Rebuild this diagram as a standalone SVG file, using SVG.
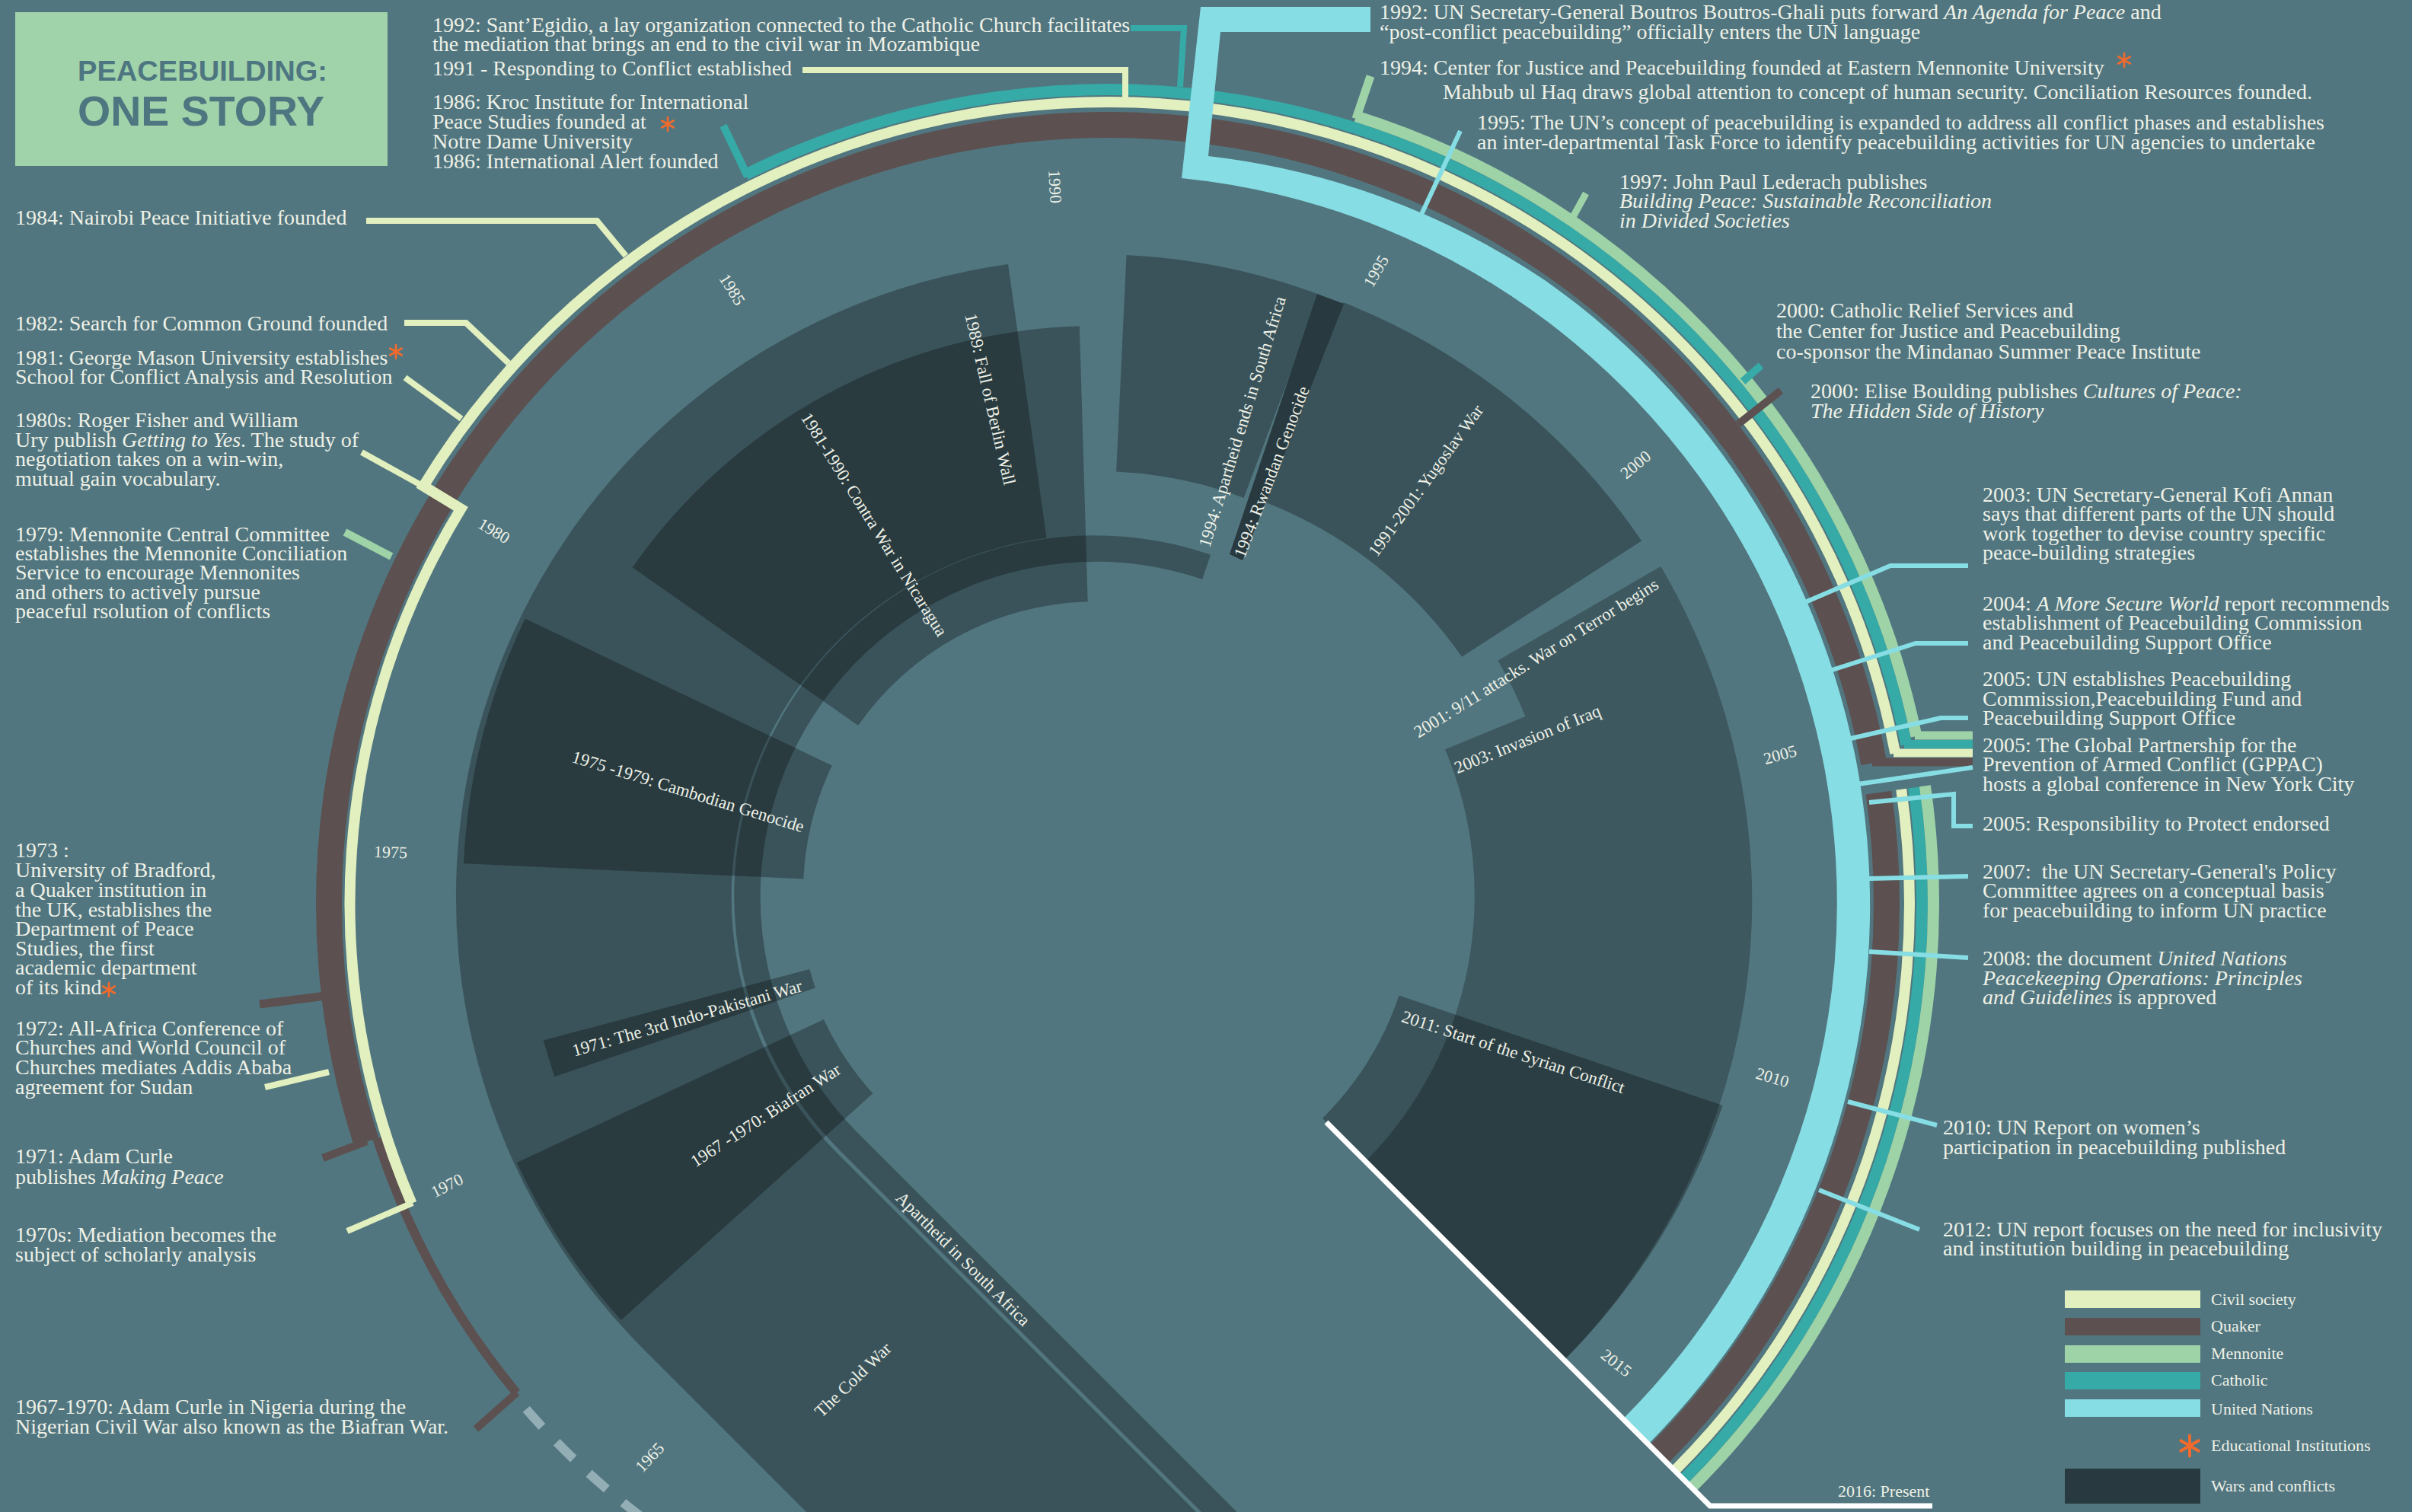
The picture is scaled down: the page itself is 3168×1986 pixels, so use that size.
<svg xmlns="http://www.w3.org/2000/svg" width="3168" height="1986" viewBox="0 0 3168 1986">
<defs>
<style>
.t{font-family:"Liberation Serif","Times New Roman",serif;font-size:28px;fill:#eef1e7}
.i{font-style:italic}
.wl{font-family:"Liberation Serif","Times New Roman",serif;font-size:23px;fill:#eef1e7}
.yr{font-family:"Liberation Serif","Times New Roman",serif;font-size:22px;fill:#eef1e7;text-anchor:middle}
.lg{font-family:"Liberation Serif","Times New Roman",serif;font-size:22px;fill:#eef1e7}
.war{fill:#000;fill-opacity:.29}
.band{fill:none;stroke-linecap:butt}
.cr{stroke:#e2efbf}
.br{stroke:#5c5050}
.mn{stroke:#9ed3a8}
.ct{stroke:#35aaa7}
.un{stroke:#86dde4}
.ttl{font-family:"Liberation Sans",Arial,sans-serif;font-weight:700;fill:#4e7681}
</style>
<g id="ast"><path d="M0,-9V9M-7.8,-4.5L7.8,4.5M-7.8,4.5L7.8,-4.5" fill="none" stroke="#f26a2c" stroke-width="2.6" stroke-linecap="round"/></g>
</defs>
<rect width="3168" height="1986" fill="#52767f"/>

<g id="wars">
<path id="war-coldwar" class="war" d="M 1542.5 2469.5 L 842.5 1769.5 A 839 839 0 0 1 1324.1 347.1 L 1374.6 706.6 A 476 476 0 0 0 1098.5 1513.5 L 1798.5 2213.5 Z"/>
<path id="war-apartheid" class="war" d="M 1802 2210 L 1102 1510 A 473 473 0 0 1 1590.1 728.7 L 1579.2 760.9 A 440 440 0 0 0 1125.3 1486.7 L 1825.3 2186.7 Z"/>
<path id="war-biafran" class="war" d="M 815.8 1734.1 A 840 840 0 0 1 678.7 1527 L 1082 1338.9 A 395 395 0 0 0 1146.5 1436.3 Z"/>
<path id="war-indopak" class="war" d="M 713.6 1366.6 L 1063.3 1272.9 L 1070.8 1297.7 L 728.1 1414.3 Z"/>
<path id="war-cambodia" class="war" d="M 608.9 1134.3 A 832 832 0 0 1 689.7 812.5 L 1092.8 1005.6 A 385 385 0 0 0 1055.4 1154.5 Z"/>
<path id="war-contra" class="war" d="M 830.6 745.3 A 744 744 0 0 1 1417.9 428.3 L 1428.7 790.2 A 382 382 0 0 0 1127.1 952.9 Z"/>
<path id="war-apartheid-ends" class="war" d="M 1479.5 334.9 A 838 838 0 0 1 1733.5 387.1 L 1633.7 654 A 553 553 0 0 0 1466.1 619.6 Z"/>
<path id="war-yugoslav" class="war" d="M 1764.2 397.1 A 846 846 0 0 1 2156.2 710.5 L 1920 862.7 A 565 565 0 0 0 1655.3 657.2 Z"/>
<path id="war-rwanda" fill="#28393f" d="M 1730 386 L 1765 399 L 1632 736 L 1615 728 Z"/>
<path id="war-terror-iraq" class="war" style="fill-opacity:.25" d="M 2181.3 744 A 862 862 0 0 1 2054.5 1786.5 L 1793.6 1525.6 A 497 497 0 0 0 1898 984.2 L 2003.5 940.9 A 609 609 0 0 0 1967.4 867.5 Z"/>
<path id="war-syria" class="war" d="M 2262.6 1452.1 A 869 869 0 0 1 2054.5 1786.5 L 1737 1469 A 420 420 0 0 0 1837.6 1307.4 Z"/>
</g>

<g id="timeline-bands">
<path id="dashes-1965" class="band" d="M 691.2 1850.9 A 1012 1012 0 0 0 979.9 2080.5" stroke="#93aeb4" stroke-width="12" stroke-dasharray="31 28"/>
<path id="quaker-thin" class="band br" stroke-width="12" d="M 678.3 1829.5 A 1008 1008 0 0 1 495.3 1495.1"/>
<path id="quaker-upper" class="band br" stroke-width="34" d="M 481 1499.7 A 1023 1023 0 0 1 1455 164 A 1023 1023 0 0 1 2461.1 1002"/>
<path id="quaker-lower" class="band br" stroke-width="34" d="M 2467.5 1041.1 A 1023 1023 0 0 1 2178.4 1910.4"/>
<path id="civil-upper" class="band cr" stroke-width="14" stroke-linejoin="miter" d="M 540.7 1580.8 A 995.5 995.5 0 0 1 605.3 668.3 L 556.2 638.4 A 1053 1053 0 0 1 1637.9 150 A 1053 1053 0 0 1 2489.3 989.5"/>
<path id="civil-lower" class="band cr" stroke-width="14" d="M 2497.2 1036.8 A 1053 1053 0 0 1 2199.6 1931.6"/>
<path id="catholic-upper" class="band ct" stroke-width="15" d="M 979.5 229.1 A 1069.5 1069.5 0 0 1 2503.9 978"/>
<path id="catholic-lower" class="band ct" stroke-width="15" d="M 2513.6 1034.5 A 1069.5 1069.5 0 0 1 2211.2 1943.2"/>
<path id="mennonite-upper" class="band mn" stroke-width="15" d="M 1781.1 152.7 A 1084.5 1084.5 0 0 1 2517 967"/>
<path id="mennonite-lower" class="band mn" stroke-width="15" d="M 2528.4 1032.3 A 1084.5 1084.5 0 0 1 2221.9 1953.9"/>
<g id="gppac-stubs" stroke-width="11" fill="none">
<line class="mn" x1="2515" y1="966" x2="2591" y2="966"/>
<line class="ct" x1="2501" y1="977.5" x2="2591" y2="977.5"/>
<line class="cr" x1="2487" y1="989" x2="2591" y2="989"/>
<line class="br" x1="2459" y1="1001" x2="2591" y2="1001"/>
</g>
<path id="united-nations" fill="#86dde4" d="M 1577 9 L 1800 9 L 1800 42 L 1603 42 L 1587 205 A 995 995 0 0 1 2028.6 367.8 A 1004 1004 0 0 1 2164.9 1896.9 L 2131.7 1863.7 A 957 957 0 0 0 1552 234 Z"/>
</g>

<g id="connectors" fill="none" stroke-linejoin="miter">
<polyline class="cr" stroke-width="8" points="1054,92 1478,92 1478,128"/>
<polyline class="cr" stroke-width="8" points="481,290 784,290 822,336"/>
<polyline class="cr" stroke-width="8" points="531,424 612,424 668,477"/>
<polyline class="cr" stroke-width="8" points="532,496 606,550"/>
<polyline class="cr" stroke-width="8" points="475,594 560,641"/>
<polyline class="cr" stroke-width="8" points="348,1428 432,1408"/>
<polyline class="cr" stroke-width="8" points="456,1617 542,1580"/>
<polyline class="br" stroke-width="11" points="341,1319 428,1308"/>
<polyline class="br" stroke-width="10" points="424,1521 482,1499"/>
<polyline class="br" stroke-width="10" points="679,1829 625,1877"/>
<polyline class="br" stroke-width="10" points="2339,513 2283,557"/>
<polyline class="ct" stroke-width="8" points="1485,37 1555,37 1550,114"/>
<polyline class="ct" stroke-width="10" points="950,165 982,232"/>
<polyline class="ct" stroke-width="10" points="2313,480 2289,501"/>
<polyline class="mn" stroke-width="11" points="1800,100 1781,156"/>
<polyline class="mn" stroke-width="9" points="2083,254 2066,285"/>
<polyline class="mn" stroke-width="10" points="453,699 514,731"/>
<polyline class="un" stroke-width="6" points="1918,172 1864,288"/>
<polyline class="un" stroke-width="6" points="2364,794 2483,743 2585,743"/>
<polyline class="un" stroke-width="6" points="2397,883 2516,845 2585,845"/>
<polyline class="un" stroke-width="6" points="2422,972 2549,943 2585,943"/>
<polyline class="un" stroke-width="6" points="2433,1031 2591,1008"/>
<polyline class="un" stroke-width="6" points="2455,1054 2566,1043 2566,1085 2591,1085"/>
<polyline class="un" stroke-width="6" points="2455,1154 2585,1151"/>
<polyline class="un" stroke-width="6" points="2455,1250 2585,1258"/>
<polyline class="un" stroke-width="6" points="2427,1447 2544,1478"/>
<polyline class="un" stroke-width="6" points="2389,1563 2521,1615"/>
<polyline id="present-line" stroke="#ffffff" stroke-width="7" points="1742,1474 2246,1978 2538,1978"/>
</g>

<g id="title">
<rect x="20" y="16" width="489" height="202" fill="#a0d3a9"/>
<text class="ttl" x="102" y="106" font-size="37" textLength="328" lengthAdjust="spacingAndGlyphs">PEACEBUILDING:</text>
<text class="ttl" x="102" y="165" font-size="56" textLength="324" lengthAdjust="spacingAndGlyphs">ONE STORY</text>
</g>

<g id="year-labels">
<text class="yr" transform="translate(853 1914) rotate(-47)" dy=".35em">1965</text>
<text class="yr" transform="translate(587 1557) rotate(-27)" dy=".35em">1970</text>
<text class="yr" transform="translate(513 1119) rotate(2)" dy=".35em">1975</text>
<text class="yr" transform="translate(649 697) rotate(31)" dy=".35em">1980</text>
<text class="yr" transform="translate(962 380) rotate(58)" dy=".35em">1985</text>
<text class="yr" transform="translate(1386 245) rotate(87)" dy=".35em">1990</text>
<text class="yr" transform="translate(1807 356) rotate(-60)" dy=".35em">1995</text>
<text class="yr" transform="translate(2148 610) rotate(-40)" dy=".35em">2000</text>
<text class="yr" transform="translate(2338 991) rotate(-15)" dy=".35em">2005</text>
<text class="yr" transform="translate(2328 1415) rotate(16)" dy=".35em">2010</text>
<text class="yr" transform="translate(2123 1790) rotate(38)" dy=".35em">2015</text>
</g>

<g id="war-labels">
<text class="wl" transform="translate(1275 412) rotate(77)" dy=".35em">1989: Fall of Berlin Wall</text>
<text class="wl" transform="translate(1058 544) rotate(58)" dy=".35em">1981-1990: Contra War in Nicaragua</text>
<text class="wl" transform="translate(752 993) rotate(17)" dy=".35em">1975 -1979: Cambodian Genocide</text>
<text class="wl" transform="translate(752 1380) rotate(-16)" dy=".35em">1971: The 3rd Indo-Pakistani War</text>
<text class="wl" transform="translate(909 1527) rotate(-33)" dy=".35em">1967 -1970: Biafran War</text>
<text class="wl" transform="translate(1120 1812) rotate(-44)" dy=".35em" text-anchor="middle">The Cold War</text>
<text class="wl" transform="translate(1181 1569) rotate(45)" dy=".35em">Apartheid in South Africa</text>
<text class="wl" transform="translate(1581 718) rotate(-73)" dy=".35em">1994: Apartheid ends in South Africa</text>
<text class="wl" transform="translate(1627 731) rotate(-69)" dy=".35em">1994: Rwandan Genocide</text>
<text class="wl" transform="translate(1802 728) rotate(-54)" dy=".35em">1991-2001: Yugoslav War</text>
<text class="wl" transform="translate(1859 963) rotate(-32)" dy=".35em">2001: 9/11 attacks. War on Terror begins</text>
<text class="wl" transform="translate(1911 1009) rotate(-22)" dy=".35em">2003: Invasion of Iraq</text>
<text class="wl" transform="translate(1842 1334) rotate(18)" dy=".35em">2011: Start of the Syrian Conflict</text>
</g>

<g id="ev-1992-santegidio"><text class="t" x="568" y="42">1992: Sant’Egidio, a lay organization connected to the Catholic Church facilitates</text><text class="t" x="568" y="67">the mediation that brings an end to the civil war in Mozambique</text></g>
<g id="ev-1991"><text class="t" x="568" y="99">1991 - Responding to Conflict established</text></g>
<g id="ev-1986"><text class="t" x="568" y="143">1986: Kroc Institute for International</text><text class="t" x="568" y="169">Peace Studies founded at</text><use href="#ast" x="877" y="163"/><text class="t" x="568" y="195">Notre Dame University</text><text class="t" x="568" y="221">1986: International Alert founded</text></g>
<g id="ev-1984"><text class="t" x="20" y="295">1984: Nairobi Peace Initiative founded</text></g>
<g id="ev-1982"><text class="t" x="20" y="434">1982: Search for Common Ground founded</text></g>
<g id="ev-1981"><text class="t" x="20" y="479">1981: George Mason University establishes</text><use href="#ast" x="520" y="462"/><text class="t" x="20" y="504">School for Conflict Analysis and Resolution</text></g>
<g id="ev-1980s"><text class="t" x="20" y="561">1980s: Roger Fisher and William</text><text class="t" x="20" y="587">Ury publish <tspan class="i">Getting to Yes</tspan>. The study of</text><text class="t" x="20" y="612">negotiation takes on a win-win,</text><text class="t" x="20" y="638">mutual gain vocabulary.</text></g>
<g id="ev-1979"><text class="t" x="20" y="711">1979: Mennonite Central Committee</text><text class="t" x="20" y="736">establishes the Mennonite Conciliation</text><text class="t" x="20" y="761">Service to encourage Mennonites</text><text class="t" x="20" y="787">and others to actively pursue</text><text class="t" x="20" y="812">peaceful rsolution of conflicts</text></g>
<g id="ev-1973"><text class="t" x="20" y="1126">1973 :</text><text class="t" x="20" y="1152">University of Bradford,</text><text class="t" x="20" y="1178">a Quaker institution in</text><text class="t" x="20" y="1204">the UK, establishes the</text><text class="t" x="20" y="1229">Department of Peace</text><text class="t" x="20" y="1255">Studies, the first</text><text class="t" x="20" y="1280">academic department</text><text class="t" x="20" y="1306">of its kind</text><use href="#ast" x="143" y="1300"/></g>
<g id="ev-1972"><text class="t" x="20" y="1360">1972: All-Africa Conference of</text><text class="t" x="20" y="1385">Churches and World Council of</text><text class="t" x="20" y="1411">Churches mediates Addis Ababa</text><text class="t" x="20" y="1437">agreement for Sudan</text></g>
<g id="ev-1971"><text class="t" x="20" y="1528">1971: Adam Curle</text><text class="t" x="20" y="1555">publishes <tspan class="i">Making Peace</tspan></text></g>
<g id="ev-1970s"><text class="t" x="20" y="1631">1970s: Mediation becomes the</text><text class="t" x="20" y="1657">subject of scholarly analysis</text></g>
<g id="ev-1967"><text class="t" x="20" y="1857">1967-1970: Adam Curle in Nigeria during the</text><text class="t" x="20" y="1883">Nigerian Civil War also known as the Biafran War.</text></g>

<g id="ev-1992-un"><text class="t" x="1812" y="25">1992: UN Secretary-General Boutros Boutros-Ghali puts forward <tspan class="i">An Agenda for Peace</tspan> and</text><text class="t" x="1812" y="51">“post-conflict peacebuilding” officially enters the UN language</text></g>
<g id="ev-1994"><text class="t" x="1812" y="98">1994: Center for Justice and Peacebuilding founded at Eastern Mennonite University</text><use href="#ast" x="2790" y="79"/><text class="t" x="1895" y="130">Mahbub ul Haq draws global attention to concept of human security. Conciliation Resources founded.</text></g>
<g id="ev-1995"><text class="t" x="1940" y="170">1995: The UN’s concept of peacebuilding is expanded to address all conflict phases and establishes</text><text class="t" x="1940" y="196">an inter-departmental Task Force to identify peacebuilding activities for UN agencies to undertake</text></g>
<g id="ev-1997"><text class="t" x="2127" y="248">1997: John Paul Lederach publishes</text><text class="t i" x="2127" y="273">Building Peace: Sustainable Reconciliation</text><text class="t i" x="2127" y="299">in Divided Societies</text></g>
<g id="ev-2000-crs"><text class="t" x="2333" y="417">2000: Catholic Relief Services and</text><text class="t" x="2333" y="444">the Center for Justice and Peacebuilding</text><text class="t" x="2333" y="471">co-sponsor the Mindanao Summer Peace Institute</text></g>
<g id="ev-2000-boulding"><text class="t" x="2378" y="523">2000: Elise Boulding publishes <tspan class="i">Cultures of Peace:</tspan></text><text class="t i" x="2378" y="549">The Hidden Side of History</text></g>
<g id="ev-2003"><text class="t" x="2604" y="659">2003: UN Secretary-General Kofi Annan</text><text class="t" x="2604" y="684">says that different parts of the UN should</text><text class="t" x="2604" y="710">work together to devise country specific</text><text class="t" x="2604" y="735">peace-building strategies</text></g>
<g id="ev-2004"><text class="t" x="2604" y="802">2004: <tspan class="i">A More Secure World</tspan> report recommends</text><text class="t" x="2604" y="827">establishment of Peacebuilding Commission</text><text class="t" x="2604" y="853">and Peacebuilding Support Office</text></g>
<g id="ev-2005-pbc"><text class="t" x="2604" y="901">2005: UN establishes Peacebuilding</text><text class="t" x="2604" y="927">Commission,Peacebuilding Fund and</text><text class="t" x="2604" y="952">Peacebuilding Support Office</text></g>
<g id="ev-2005-gppac"><text class="t" x="2604" y="988">2005: The Global Partnership for the</text><text class="t" x="2604" y="1013">Prevention of Armed Conflict (GPPAC)</text><text class="t" x="2604" y="1039">hosts a global conference in New York City</text></g>
<g id="ev-2005-r2p"><text class="t" x="2604" y="1091">2005: Responsibility to Protect endorsed</text></g>
<g id="ev-2007"><text class="t" x="2604" y="1154">2007:&#160; the UN Secretary-General's Policy</text><text class="t" x="2604" y="1179">Committee agrees on a conceptual basis</text><text class="t" x="2604" y="1205">for peacebuilding to inform UN practice</text></g>
<g id="ev-2008"><text class="t" x="2604" y="1268">2008: the document <tspan class="i">United Nations</tspan></text><text class="t i" x="2604" y="1294">Peacekeeping Operations: Principles</text><text class="t" x="2604" y="1319"><tspan class="i">and Guidelines</tspan> is approved</text></g>
<g id="ev-2010"><text class="t" x="2552" y="1490">2010: UN Report on women’s</text><text class="t" x="2552" y="1516">participation in peacebuilding published</text></g>
<g id="ev-2012"><text class="t" x="2552" y="1624">2012: UN report focuses on the need for inclusivity</text><text class="t" x="2552" y="1649">and institution building in peacebuilding</text></g>
<g id="ev-2016"><text class="lg" x="2414" y="1966">2016: Present</text></g>

<g id="legend">
<rect x="2712" y="1695" width="178" height="23" fill="#e2efbf"/>
<rect x="2712" y="1731" width="178" height="23" fill="#5c5050"/>
<rect x="2712" y="1767" width="178" height="23" fill="#9ed3a8"/>
<rect x="2712" y="1802" width="178" height="23" fill="#35aaa7"/>
<rect x="2712" y="1838" width="178" height="23" fill="#86dde4"/>
<rect x="2712" y="1929" width="178" height="46" fill="#283a40"/>
<use href="#ast" transform="translate(2876 1899) scale(1.5)"/>
<text class="lg" x="2904" y="1714">Civil society</text>
<text class="lg" x="2904" y="1749">Quaker</text>
<text class="lg" x="2904" y="1785">Mennonite</text>
<text class="lg" x="2904" y="1820">Catholic</text>
<text class="lg" x="2904" y="1858">United Nations</text>
<text class="lg" x="2904" y="1906">Educational Institutions</text>
<text class="lg" x="2904" y="1959">Wars and conflicts</text>
</g>
</svg>
